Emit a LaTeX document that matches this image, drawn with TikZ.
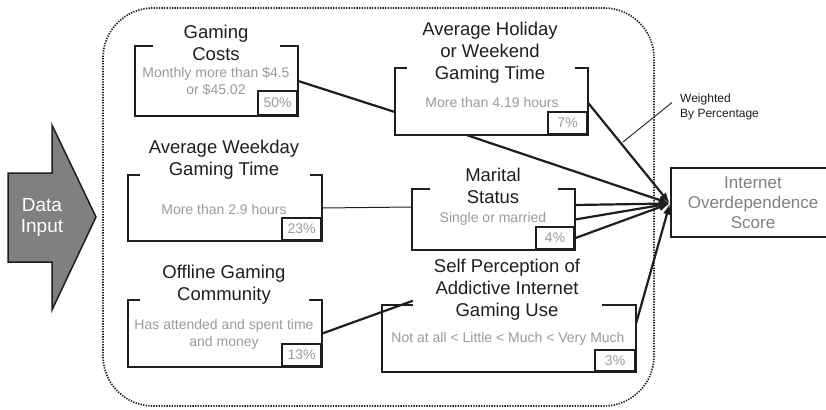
\documentclass[tikz,border=0pt]{standalone}
\usepackage{fontspec}
\setmainfont{Liberation Sans}
\usepackage{tikz}
\usetikzlibrary{arrows.meta}
\usetikzlibrary{calc}

\definecolor{inkdark}{HTML}{1E1E1E}
\definecolor{inkgray}{HTML}{9A9A9A}
\definecolor{arrowgray}{HTML}{808080}

\tikzset{
  factor/.style={draw=none, inner sep=0pt},
  boxline/.style={draw=inkdark, line width=2.2pt},
  title/.style={font=\fontsize{18.5}{22}\selectfont, text=inkdark, align=center, inner sep=0pt},
  detail/.style={font=\fontsize{14}{17}\selectfont, text=inkgray, align=center, inner sep=0pt},
  weight/.style={draw=inkdark, line width=2.2pt, font=\fontsize{14}{16}\selectfont, text=inkgray,
                 inner sep=0pt, anchor=south east},
  link/.style={draw=inkdark, line width=2.2pt},
  feed/.style={link, -{Latex[length=11pt,width=8pt]}}
}

% open-topped frame round a factor node: #1 node, #2 left gap, #3 right gap
\newcommand{\bracketbox}[3]{%
  \draw[boxline] ([xshift=#2]#1.north west) -- (#1.north west) -- (#1.south west)
    -- (#1.south east) -- (#1.north east) -- ([xshift=-#3]#1.north east);}

\begin{document}
\begin{tikzpicture}[x=1pt, y=-1pt]
  \useasboundingbox (0,0) rectangle (826,409);

  % dotted model frame
  \draw[dash pattern=on 1.3pt off 1.3pt, line width=1.7pt, inkdark, rounded corners=50pt] (103,8) rectangle (654,406);

  % data input arrow
  \draw[fill=arrowgray, draw=inkdark, line width=1.5pt]
    (8,173) -- (52,173) -- (52,125) -- (96,217) -- (52,310) -- (52,262) -- (8,262) -- cycle;
  \node[font=\fontsize{19}{21}\selectfont, text=white, align=center, inner sep=0pt] (input) at (42,217) {Data\\Input};

  % factor boxes
  \node[factor, minimum width=163pt, minimum height=70pt] (costs) at (216.5,81) {};
  \node[factor, minimum width=193pt, minimum height=67pt] (holiday) at (491.5,101.5) {};
  \node[factor, minimum width=194pt, minimum height=65.5pt] (weekday) at (225,208) {};
  \node[factor, minimum width=194pt, minimum height=67pt] (offline) at (225,333.5) {};
  \node[factor, minimum width=163pt, minimum height=61pt] (marital) at (493.5,219.5) {};
  \node[factor, minimum width=254pt, minimum height=67pt] (selfp) at (509,338.5) {};

  \bracketbox{costs}{18pt}{18pt}
  \bracketbox{holiday}{12pt}{13pt}
  \bracketbox{weekday}{12pt}{12pt}
  \bracketbox{offline}{12pt}{13pt}
  \bracketbox{marital}{18pt}{17pt}
  \bracketbox{selfp}{31pt}{34pt}

  % titles
  \node[title] (costsT) at (216,43) {Gaming\\Costs};
  \node[title] (holidayT) at (490,52.5) {Average Holiday\\or Weekend\\Gaming Time};
  \node[title] (weekdayT) at (224,160) {Average Weekday\\Gaming Time};
  \node[title] (offlineT) at (224,284.5) {Offline Gaming\\Community};
  \node[title] (maritalT) at (493,186) {Marital\\Status};
  \node[title] (selfpT) at (507,289.5) {Self Perception of\\Addictive Internet\\Gaming Use};

  % details
  \node[detail] (costsD) at (216,81.5) {Monthly more than \$4.5\\or \$45.02};
  \node[detail] (holidayD) at (492,102) {More than 4.19 hours};
  \node[detail] (weekdayD) at (224,209) {More than 2.9 hours};
  \node[detail] (offlineD) at (224,334.5) {Has attended and spent time\\and money};
  \node[detail] (maritalD) at (493,219) {Single or married};
  \node[detail] (selfpD) at (508,339) {Not at all < Little < Much < Very Much};

  % percentages
  \node[weight, minimum width=39pt, minimum height=24pt] (costsP) at (costs.south east) {50\%};
  \node[weight, minimum width=39pt, minimum height=22pt] (holidayP) at (holiday.south east) {7\%};
  \node[weight, minimum width=39pt, minimum height=22pt] (weekdayP) at (weekday.south east) {23\%};
  \node[weight, minimum width=39pt, minimum height=22pt] (offlineP) at (offline.south east) {13\%};
  \node[weight, minimum width=38pt, minimum height=22pt] (maritalP) at (marital.south east) {4\%};
  \node[weight, minimum width=40pt, minimum height=21pt] (selfpP) at (selfp.south east) {3\%};

  % score
  \node[draw=inkdark, line width=2.2pt, minimum width=164pt, minimum height=69pt, inner sep=0pt,
        font=\fontsize{17}{20}\selectfont, text=black!50, align=center] (score) at (753,202.5)
        {Internet\\Overdependence\\Score};

  % connectors
  \draw[link] (costs.east) -- ([yshift=-10.5pt]holiday.west);
  \draw[link, line width=1pt] (weekday.east) -- ([yshift=12.5pt]marital.west);
  \draw[link] (offline.east) -- ([xshift=31pt,yshift=4pt]selfp.north west);
  \draw[feed] ([xshift=-24.5pt]holiday.south) -- ([yshift=-1pt]score.west);
  \draw[feed] ([yshift=-1.5pt]holiday.east) -- ([yshift=-1pt]score.west);
  \draw[feed] ([yshift=14.5pt]marital.east) -- ([yshift=-1pt]score.west);
  \draw[feed] (marital.east) -- ([yshift=-1pt]score.west);
  \draw[feed] (maritalP.east) -- ([yshift=-1pt]score.west);
  \draw[feed] ([yshift=15.5pt]selfp.east) -- ([yshift=-1pt]score.west);

  % weighting note
  \node[font=\fontsize{12}{15}\selectfont, text=inkdark, align=left, anchor=west, inner sep=0pt] (weighted) at (680,106.5)
        {Weighted\\By Percentage};
  \coordinate (wtip) at (623,142);
  \draw[inkdark, line width=0.9pt] ([xshift=-8pt,yshift=4pt]weighted.west) -- (wtip);
\end{tikzpicture}
\end{document}
